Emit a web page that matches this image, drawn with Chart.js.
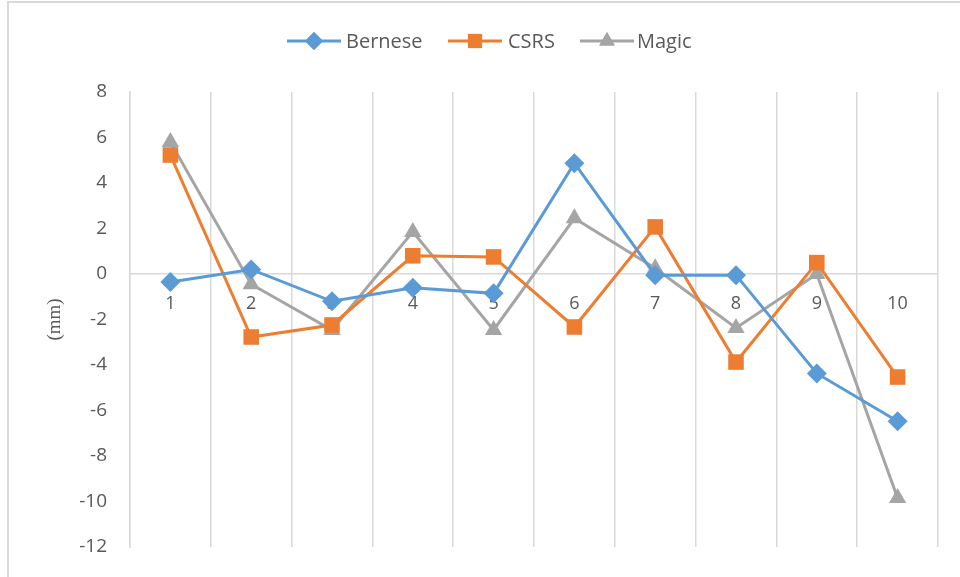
<!DOCTYPE html>
<html>
<head>
<meta charset="utf-8">
<script src="https://cdn.jsdelivr.net/npm/chart.js@4.4.0/dist/chart.umd.min.js"></script>
<style>
  html, body { margin: 0; padding: 0; background: #fff; }
  #wrap { position: relative; width: 960px; height: 577px; overflow: hidden; }
  #frame { position: absolute; left: 7px; top: 1px; width: 1000px; height: 700px; border-left: 2px solid #D9D9D9; border-top: 2px solid #D9D9D9; box-sizing: border-box; }
  canvas { position: absolute; left: 0; top: 0; }
</style>
</head>
<body>
<div id="wrap">
  <div id="frame"></div>
  <canvas id="c" width="960" height="577"></canvas>
</div>
<script>
const categories = ['1', '2', '3', '4', '5', '6', '7', '8', '9', '10'];
const bernese = [-0.35, 0.2, -1.2, -0.6, -0.85, 4.87, -0.05, -0.05, -4.37, -6.47];
const csrs    = [5.23, -2.77, -2.24, 0.8, 0.75, -2.33, 2.07, -3.87, 0.5, -4.53];
const magic   = [5.8, -0.45, -2.46, 1.85, -2.46, 2.45, 0.25, -2.37, 0.0, -9.85];
const seriesNames = ['Bernese', 'CSRS', 'Magic'];
const yTitle = '(mm)';

const colors = ['#5B9BD5', '#ED7D31', '#A5A5A5'];
const styles = ['rectRot', 'rect', 'triangle'];
const radii = [10, 11, 10];

function ds(label, data, i) {
  return {
    label, data,
    borderColor: colors[i], backgroundColor: colors[i],
    borderWidth: 3, pointStyle: styles[i], pointRadius: radii[i],
    pointBorderWidth: 0, pointHoverRadius: radii[i], tension: 0
  };
}

const legendPlugin = {
  id: 'customLegend',
  afterDraw(chart) {
    const ctx = chart.ctx;
    const items = [
      {x: 287, tx: 346},
      {x: 448, tx: 508},
      {x: 580, tx: 637}
    ];
    const y = 41;
    ctx.save();
    chart.data.datasets.forEach((d, i) => {
      const it = items[i];
      ctx.strokeStyle = colors[i];
      ctx.lineWidth = 3;
      ctx.beginPath();
      ctx.moveTo(it.x, y); ctx.lineTo(it.x + 54, y); ctx.stroke();
      ctx.fillStyle = colors[i];
      Chart.helpers.drawPoint(ctx, {pointStyle: styles[i], radius: radii[i] - 1, borderWidth: 0}, it.x + 27, y);
      ctx.fill();
      ctx.fillStyle = '#595959';
      ctx.font = '20px "Open Sans"';
      ctx.textBaseline = 'middle';
      ctx.textAlign = 'left';
      ctx.fillText(d.label, it.tx, y + 1);
    });
    ctx.restore();
  }
};

new Chart(document.getElementById('c'), {
  type: 'line',
  data: {
    labels: categories,
    datasets: [ds(seriesNames[0], bernese, 0), ds(seriesNames[1], csrs, 1), ds(seriesNames[2], magic, 2)]
  },
  options: {
    responsive: false,
    animation: false,
    layout: { padding: { left: 44, top: 92, right: 22, bottom: 30 } },
    plugins: { legend: { display: false }, tooltip: { enabled: false } },
    scales: {
      x: {
        position: { y: 0 },
        offset: true,
        grid: { offset: true, color: '#D9D9D9', lineWidth: 1.5, drawTicks: false },
        border: { display: true, color: '#D9D9D9', width: 1.5 },
        ticks: { color: '#595959', font: { family: 'Open Sans', size: 18 }, padding: 19, maxRotation: 0 },
        afterFit(scale) { scale.height = 0; scale.paddingTop = 0; scale.paddingBottom = 0; }
      },
      y: {
        min: -12, max: 8,
        ticks: { stepSize: 2, color: '#595959', font: { family: 'Open Sans', size: 19 }, padding: 23 },
        grid: { display: false, drawTicks: false },
        border: { display: true, color: '#D9D9D9', width: 1.5 },
        title: { display: true, text: yTitle, color: '#595959', font: { family: 'Liberation Serif', size: 19 }, padding: 0 },
        afterFit(scale) { scale.width = 86; scale.paddingTop = 0; scale.paddingBottom = 0; }
      }
    }
  },
  plugins: [legendPlugin]
});
</script>
</body>
</html>
